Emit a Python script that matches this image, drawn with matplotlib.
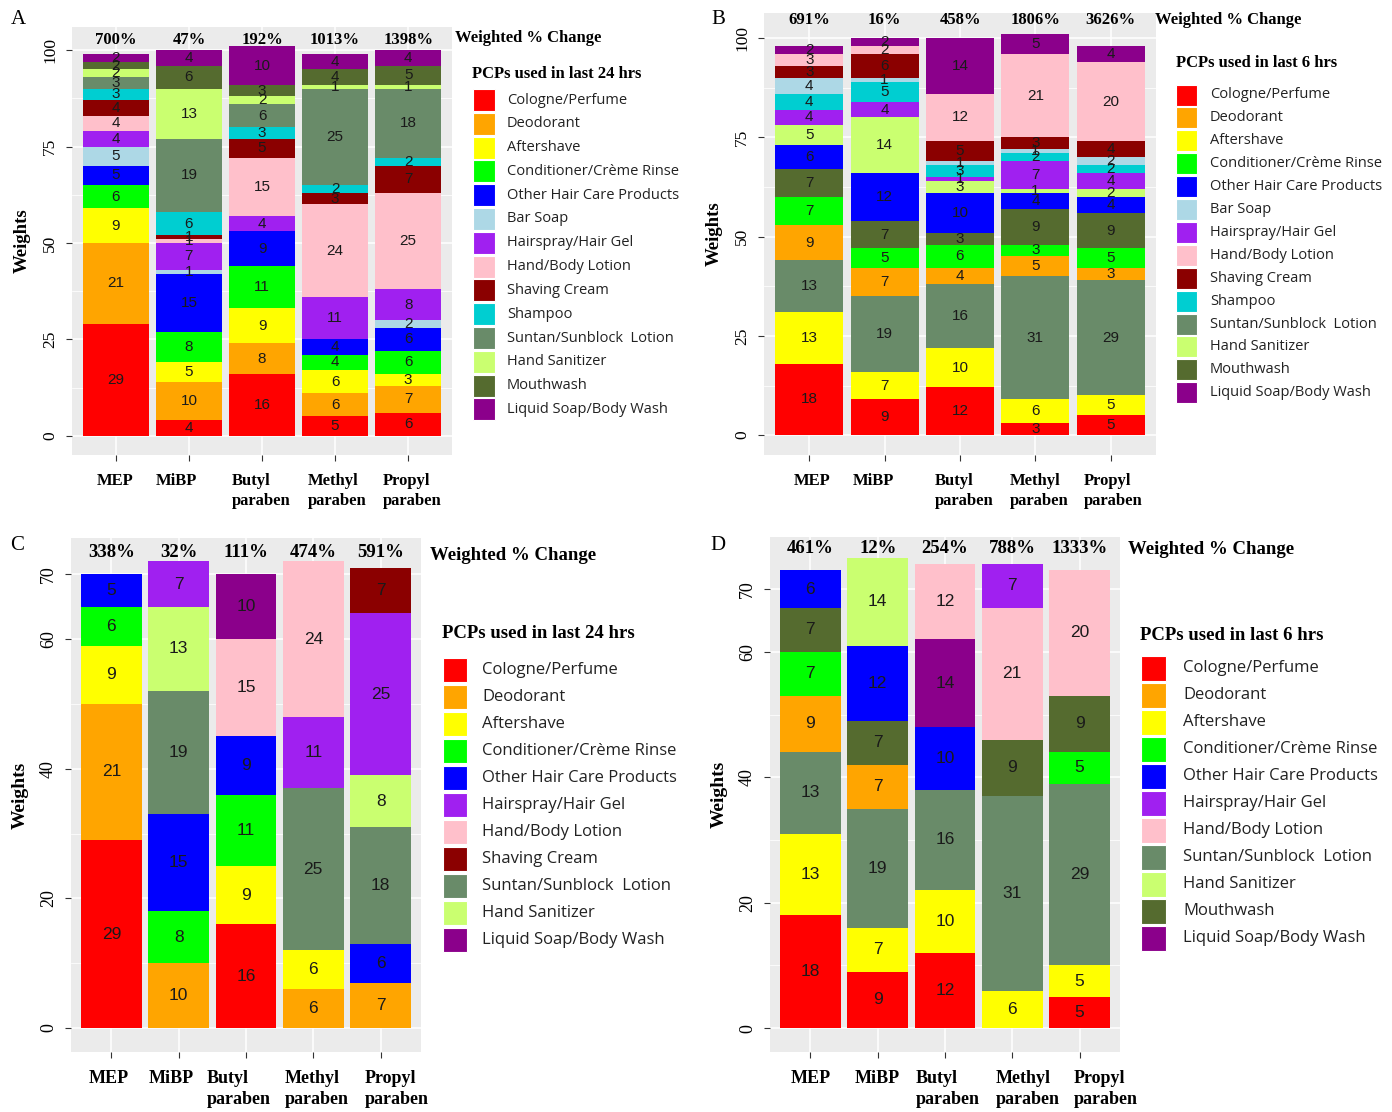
import matplotlib
matplotlib.use("Agg")
import matplotlib.pyplot as plt
from matplotlib.patches import Rectangle
from matplotlib.transforms import ScaledTranslation

W, H = 1392, 1112
SERIF = "Liberation Serif"
SANS = "Liberation Sans"
LEG = "Open Sans"

compounds = ["MEP", "MiBP", "Butyl\nparaben", "Methyl\nparaben", "Propyl\nparaben"]

pcp_colors = {
    "Cologne/Perfume": "#FF0000",
    "Deodorant": "#FFA500",
    "Aftershave": "#FFFF00",
    "Conditioner/Crème Rinse": "#00FF00",
    "Other Hair Care Products": "#0000FF",
    "Bar Soap": "#ADD8E6",
    "Hairspray/Hair Gel": "#A020F0",
    "Hand/Body Lotion": "#FFC0CB",
    "Shaving Cream": "#8B0000",
    "Shampoo": "#00CED1",
    "Suntan/Sunblock  Lotion": "#698B69",
    "Hand Sanitizer": "#CAFF70",
    "Mouthwash": "#556B2F",
    "Liquid Soap/Body Wash": "#8B008B",
}
all_pcps = list(pcp_colors)

# ---- panel A: PCPs used in last 24 hrs, all products
order_a = all_pcps
weights_a = [
    [29, 21, 9, 6, 5, 5, 4, 4, 4, 3, 3, 2, 2, 2],
    [4, 10, 5, 8, 15, 1, 7, 1, 1, 6, 19, 13, 6, 4],
    [16, 8, 9, 11, 9, 0, 4, 15, 5, 3, 6, 2, 3, 10],
    [5, 6, 6, 4, 4, 0, 11, 24, 3, 2, 25, 1, 4, 4],
    [6, 7, 3, 6, 6, 2, 8, 25, 7, 2, 18, 1, 5, 4],
]
change_a = ["700%", "47%", "192%", "1013%", "1398%"]

# ---- panel B: PCPs used in last 6 hrs, all products
order_b = ["Cologne/Perfume", "Aftershave", "Suntan/Sunblock  Lotion", "Deodorant",
           "Conditioner/Crème Rinse", "Mouthwash", "Other Hair Care Products",
           "Hand Sanitizer", "Hairspray/Hair Gel", "Shampoo", "Bar Soap",
           "Shaving Cream", "Hand/Body Lotion", "Liquid Soap/Body Wash"]
weights_b = [
    [18, 13, 13, 9, 7, 7, 6, 5, 4, 4, 4, 3, 3, 2],
    [9, 7, 19, 7, 5, 7, 12, 14, 4, 5, 1, 6, 2, 2],
    [12, 10, 16, 4, 6, 3, 10, 3, 1, 3, 1, 5, 12, 14],
    [3, 6, 31, 5, 3, 9, 4, 1, 7, 2, 1, 3, 21, 5],
    [5, 5, 29, 3, 5, 9, 4, 2, 4, 2, 2, 4, 20, 4],
]
change_b = ["691%", "16%", "458%", "1806%", "3626%"]

# ---- panel C: last 24 hrs, reduced
order_c = ["Cologne/Perfume", "Deodorant", "Aftershave", "Conditioner/Crème Rinse",
           "Other Hair Care Products", "Suntan/Sunblock  Lotion", "Hand Sanitizer",
           "Hairspray/Hair Gel", "Hand/Body Lotion", "Liquid Soap/Body Wash",
           "Shaving Cream"]
weights_c = [
    [29, 21, 9, 6, 5, 0, 0, 0, 0, 0, 0],
    [0, 10, 0, 8, 15, 19, 13, 7, 0, 0, 0],
    [16, 0, 9, 11, 9, 0, 0, 0, 15, 10, 0],
    [0, 6, 6, 0, 0, 25, 0, 11, 24, 0, 0],
    [0, 7, 0, 0, 6, 18, 8, 25, 0, 0, 7],
]
change_c = ["338%", "32%", "111%", "474%", "591%"]
legend_c = ["Cologne/Perfume", "Deodorant", "Aftershave", "Conditioner/Crème Rinse",
            "Other Hair Care Products", "Hairspray/Hair Gel", "Hand/Body Lotion",
            "Shaving Cream", "Suntan/Sunblock  Lotion", "Hand Sanitizer",
            "Liquid Soap/Body Wash"]

# ---- panel D: last 6 hrs, reduced
order_d = ["Cologne/Perfume", "Aftershave", "Suntan/Sunblock  Lotion", "Deodorant",
           "Conditioner/Crème Rinse", "Mouthwash", "Other Hair Care Products",
           "Hand Sanitizer", "Liquid Soap/Body Wash", "Hand/Body Lotion",
           "Hairspray/Hair Gel"]
weights_d = [
    [18, 13, 13, 9, 7, 7, 6, 0, 0, 0, 0],
    [9, 7, 19, 7, 0, 7, 12, 14, 0, 0, 0],
    [12, 10, 16, 0, 0, 0, 10, 0, 14, 12, 0],
    [0, 6, 31, 0, 0, 9, 0, 0, 0, 21, 7],
    [5, 5, 29, 0, 5, 9, 0, 0, 0, 20, 0],
]
change_d = ["461%", "12%", "254%", "788%", "1333%"]
legend_d = ["Cologne/Perfume", "Deodorant", "Aftershave", "Conditioner/Crème Rinse",
            "Other Hair Care Products", "Hairspray/Hair Gel", "Hand/Body Lotion",
            "Suntan/Sunblock  Lotion", "Hand Sanitizer", "Mouthwash",
            "Liquid Soap/Body Wash"]

fig = plt.figure(figsize=(W / 100, H / 100), dpi=100)


def fx(x):
    return x / W


def fy(y):
    return 1 - y / H


def panel(box, order, weights, change, ylim, yticks, minor, pct_y,
          fs_bar, fs_pct, fs_x, fs_y, xshift):
    l, t, r, b = box
    ax = fig.add_axes([fx(l), fy(b), (r - l) / W, (b - t) / H])
    ax.set_facecolor("#EBEBEB")
    for y in yticks:
        ax.axhline(y, color="white", lw=1.1, zorder=0)
    for y in minor:
        ax.axhline(y, color="white", lw=0.55, zorder=0)
    for i in range(len(compounds)):
        ax.axvline(i + 1, color="white", lw=1.1, zorder=0)
    for i, row in enumerate(weights):
        bottom = 0
        for cat, v in zip(order, row):
            if v <= 0:
                continue
            ax.bar(i + 1, v, 0.9, bottom=bottom, color=pcp_colors[cat], zorder=2)
            ax.text(i + 1, bottom + v / 2, str(v), ha="center", va="center",
                    fontsize=fs_bar, family=SANS, color="#1a1a1a", zorder=3)
            bottom += v
        ax.text(i + 1, pct_y, change[i], ha="center", va="center",
                fontsize=fs_pct, family=SERIF, fontweight="bold", zorder=3)
    ax.set_xlim(0.4, 5.6)
    ax.set_ylim(*ylim)
    ax.set_xticks(range(1, 6))
    ax.set_xticklabels([])
    # the original category labels sit a little off their ticks
    for i, (name, dx) in enumerate(zip(compounds, xshift)):
        tr = ax.get_xaxis_transform() + ScaledTranslation(dx / 100, -0.18,
                                                          fig.dpi_scale_trans)
        ax.text(i + 1, 0, name, transform=tr, ha="center", va="top",
                multialignment="left", linespacing=1.3, family=SERIF,
                fontweight="bold", fontsize=fs_x, clip_on=False)
    ax.set_yticks(yticks)
    ax.set_yticklabels([str(v) for v in yticks], family=SERIF, fontsize=fs_y,
                       rotation=90, va="center")
    ax.tick_params(axis="x", length=4, color="#333333")
    ax.tick_params(axis="y", length=4, color="#333333", pad=6)
    for s in ax.spines.values():
        s.set_visible(False)
    ax.set_ylabel("Weights", family=SERIF, fontweight="bold", fontsize=fs_y + 1,
                  labelpad=8)
    return ax


def legend(items, x_title, y_title, x_head, y_head, head, x_key, key, y0, step,
           x_txt, fs_head, fs_txt):
    fig.text(fx(x_title), fy(y_title), "Weighted % Change", family=SERIF,
             fontweight="bold", fontsize=fs_head, va="center")
    fig.text(fx(x_head), fy(y_head), head, family=SERIF, fontweight="bold",
             fontsize=fs_head, va="center")
    for j, cat in enumerate(items):
        yc = y0 + j * step
        fig.add_artist(Rectangle((fx(x_key), fy(yc + key / 2)), key / W, key / H,
                                 transform=fig.transFigure, facecolor=pcp_colors[cat],
                                 edgecolor="white", lw=0.8))
        fig.text(fx(x_txt), fy(yc), cat, family=LEG, fontsize=fs_txt, va="center",
                 color="#222222")


panel((72, 27, 452, 455), order_a, weights_a, change_a, (-5, 106),
      [0, 25, 50, 75, 100], [12.5, 37.5, 62.5, 87.5], 102.6, 11, 12, 12, 12.5,
      [-1, -12, -1, 2, 4])
panel((764, 13, 1156, 455), order_b, weights_b, change_b, (-5, 106.3),
      [0, 25, 50, 75, 100], [12.5, 37.5, 62.5, 87.5], 104.5, 11, 12, 12, 12.5,
      [3, -11, 4, 4, 2])
panel((71, 538, 421, 1052), order_c, weights_c, change_c, (-3.7, 75.6),
      [0, 20, 40, 60, 70], [10, 30, 50], 73.4, 12.5, 13.5, 13, 13,
      [-3, -7, -7, 3, 16])
panel((770, 537, 1120, 1052), order_d, weights_d, change_d, (-3.8, 78.3),
      [0, 20, 40, 60, 70], [10, 30, 50], 76.5, 12.5, 13.5, 13, 13,
      [0, 0, 3, 15, 26])

legend(all_pcps, 455, 38, 472, 74, "PCPs used in last 24 hrs", 473, 22, 100, 23.8,
       507, 12, 10.5)
legend(all_pcps, 1155, 20, 1176, 63, "PCPs used in last 6 hrs", 1176, 21, 95, 22.9,
       1210, 12, 10.5)
legend(legend_c, 430, 556, 442, 634, "PCPs used in last 24 hrs", 443, 24, 670, 27,
       482, 13.5, 12)
legend(legend_d, 1128, 550, 1140, 636, "PCPs used in last 6 hrs", 1141, 25, 668, 27,
       1183, 13.5, 12)

for letter, x, y in [("A", 18, 20), ("B", 718, 20), ("C", 17, 545), ("D", 718, 545)]:
    fig.text(fx(x), fy(y), letter, family=SERIF, fontsize=15, ha="center", va="center")

fig.savefig("out.png", dpi=100, facecolor="white")
